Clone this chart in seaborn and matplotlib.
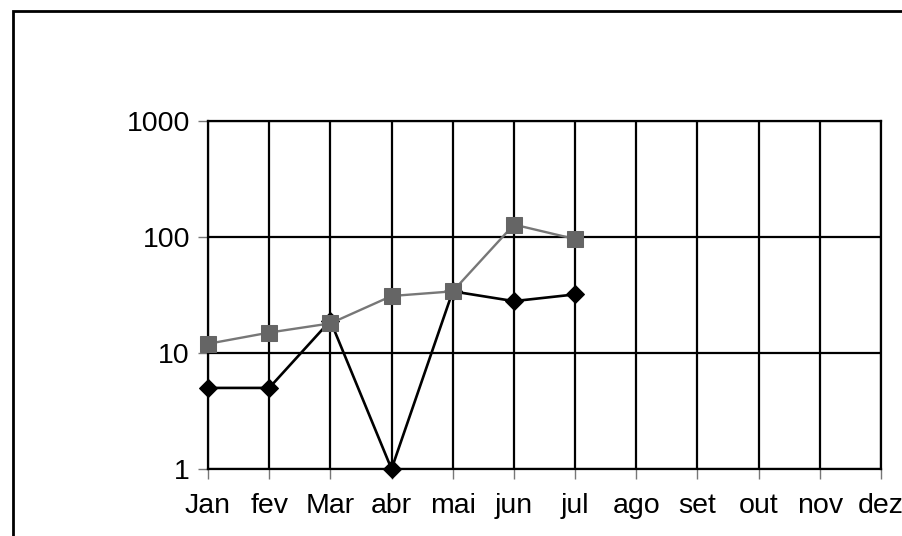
import matplotlib
matplotlib.use("Agg")
import matplotlib.pyplot as plt
import seaborn as sns
import pandas as pd
from matplotlib.patches import Rectangle
from matplotlib.ticker import FixedLocator, NullLocator

months = ["Jan", "fev", "Mar", "abr", "mai", "jun", "jul", "ago", "set", "out", "nov", "dez"]
series_black = [5, 5, 19, 1, 34, 28, 32]
series_gray = [12, 15, 18, 31, 34, 128, 96]
y_ticks = [1, 10, 100, 1000]
y_tick_labels = ["1", "10", "100", "1000"]

sns.set_style("white")
plt.rcParams['font.family'] = ['Liberation Sans', 'DejaVu Sans']

fig = plt.figure(figsize=(9.03, 5.36), dpi=100)
ax = fig.add_axes([208/903, 1 - 469/536, (881-208)/903, (469-121)/536])

df_b = pd.DataFrame({"x": range(len(series_black)), "y": series_black})
df_g = pd.DataFrame({"x": range(len(series_gray)), "y": series_gray})

ax.set_yscale("log")
ax.set_ylim(1, 1000)
ax.set_xlim(0, len(months) - 1)

# grid
ax.set_axisbelow(True)
ax.xaxis.set_major_locator(FixedLocator(list(range(len(months)))))
ax.yaxis.set_major_locator(FixedLocator(y_ticks))
ax.yaxis.set_minor_locator(NullLocator())
ax.grid(True, which="major", color="black", linewidth=1.6)

sns.lineplot(data=df_g, x="x", y="y", ax=ax, color="#777777", linewidth=1.7,
             marker="s", markersize=11.5, markerfacecolor="#656565",
             markeredgecolor="#656565", zorder=3, clip_on=False)
sns.lineplot(data=df_b, x="x", y="y", ax=ax, color="black", linewidth=1.9,
             marker="D", markersize=9, markerfacecolor="black",
             markeredgecolor="black", zorder=2, clip_on=False)

ax.set_xticklabels(months)
ax.set_yticklabels(y_tick_labels)
ax.set_xlabel("")
ax.set_ylabel("")
ax.tick_params(axis="both", which="major", direction="out", length=7, width=1,
               color="#777777", labelsize=20.5, labelcolor="black",
               bottom=True, left=True, top=False, right=False)
ax.tick_params(axis="x", pad=10)
ax.tick_params(axis="y", pad=6)
for s in ax.spines.values():
    s.set_color("black")
    s.set_linewidth(1.6)
    s.set_visible(True)

# outer frame
fig.patches.append(Rectangle((13/903, -0.1), 1.2, 1 - 11/536 + 0.1,
                             transform=fig.transFigure, fill=False,
                             edgecolor="black", linewidth=2, clip_on=False))

fig.savefig("out.png", dpi=100)
